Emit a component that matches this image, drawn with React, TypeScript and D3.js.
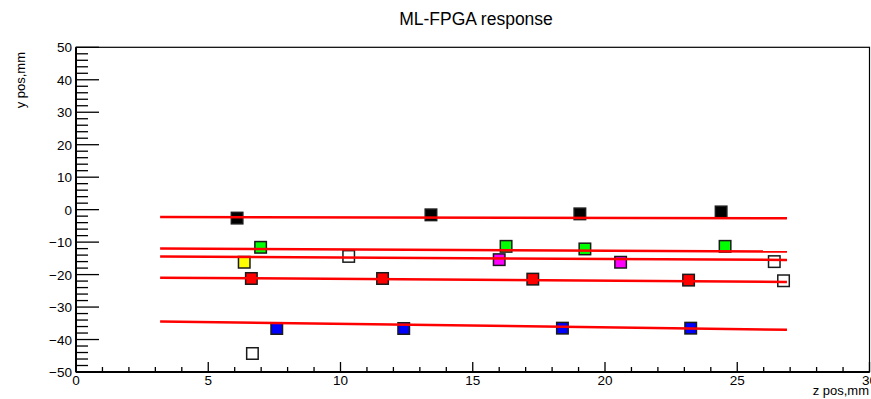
import React from "react";
import * as d3 from "d3";

// reconstructed hits, [z, y] in mm
const blackHits = [[6.09, -2.6], [13.42, -1.6], [19.05, -1.3], [24.39, -0.7]];
const greenHits = [[6.98, -11.6], [16.26, -11.3], [19.24, -12.1], [24.54, -11.3]];
const yellowHits = [[6.36, -16.2]];
const magentaHits = [[16.0, -15.4], [20.59, -16.2]];
const redHits = [[6.63, -21.2], [11.59, -21.2], [17.27, -21.4], [23.16, -21.7]];
const blueHits = [[7.59, -36.6], [12.39, -36.6], [18.39, -36.5], [23.24, -36.5]];
const openHits = [[10.31, -14.4], [26.4, -16.0], [26.75, -21.9], [6.67, -44.3]];

// fitted tracks: y at zStart and zEnd
const fitZ = [3.18, 26.88];
const fitStartY = [-2.3, -11.97, -14.43, -20.95, -34.43];
const fitEndY = [-2.65, -12.92, -15.48, -22.25, -37.0];

const xTicks = [0, 5, 10, 15, 20, 25, 30];
const yTicks = [-50, -40, -30, -20, -10, 0, 10, 20, 30, 40, 50];

const W = 871, H = 399;
const font = "'Liberation Sans', Arial, Helvetica, sans-serif";

export default function App() {
  const x = d3.scaleLinear().domain([0, 30]).range([76, 869.5]);
  const y = d3.scaleLinear().domain([-50, 50]).range([372, 47.3]);
  const line = d3.line<number[]>().x(d => x(d[0])).y(d => y(d[1]));
  const fmt = d3.format("d");

  const xMinor = d3.range(0, 30.01, 1).filter(v => v % 5 !== 0);
  const yMinor = d3.range(-50, 50.01, 2).filter(v => v % 10 !== 0);

  const groups = [
    { pts: blackHits, fill: "#000000" },
    { pts: greenHits, fill: "#00ff00" },
    { pts: yellowHits, fill: "#ffff00" },
    { pts: magentaHits, fill: "#ff00ff" },
    { pts: redHits, fill: "#ff0000" },
    { pts: blueHits, fill: "#0000ff" },
    { pts: openHits, fill: "#ffffff" },
  ];
  const s = 11.5;

  return (
    <svg width={W} height={H} style={{ position: "absolute", left: 0, top: 0, background: "#fff" }} fontFamily={font}>
      <rect width={W} height={H} fill="#fff" />
      <text x={476} y={25} textAnchor="middle" fontSize={17.5}>ML-FPGA response</text>

      {/* frame */}
      <rect x={x(0)} y={y(50)} width={x(30) - x(0)} height={y(-50) - y(50)} fill="none" stroke="#000" strokeWidth={1.2} />

      {/* markers */}
      {groups.map((g, gi) =>
        g.pts.map((p, i) => (
          <rect key={gi + "-" + i} x={x(p[0]) - s / 2} y={y(p[1]) - s / 2} width={s} height={s}
            fill={g.fill} stroke="#1a1a1a" strokeWidth={1.5} />
        ))
      )}

      {/* fits */}
      {fitStartY.map((y0, i) => (
        <path key={i} d={line([[fitZ[0], y0], [fitZ[1], fitEndY[i]]]) || ""} stroke="#ff0000" strokeWidth={2.5} fill="none" />
      ))}

      {/* y axis */}
      <line x1={x(0)} x2={x(0)} y1={y(-50)} y2={y(50)} stroke="#000" strokeWidth={2} />
      {yTicks.map(t => (
        <g key={t}>
          <line x1={x(0)} x2={x(0) + 23} y1={y(t)} y2={y(t)} stroke="#000" strokeWidth={1.3} />
          <text x={72} y={y(t) + 5} textAnchor="end" fontSize={13.5}>{fmt(t)}</text>
        </g>
      ))}
      {yMinor.map(t => (
        <line key={t} x1={x(0)} x2={x(0) + 12} y1={y(t)} y2={y(t)} stroke="#000" strokeWidth={1.3} />
      ))}
      <text transform={`translate(25,52) rotate(-90)`} textAnchor="end" fontSize={13}>y pos,mm</text>

      {/* x axis */}
      <line x1={x(0)} x2={x(30)} y1={y(-50)} y2={y(-50)} stroke="#000" strokeWidth={2} />
      {xTicks.map(t => (
        <g key={t}>
          <line x1={x(t)} x2={x(t)} y1={y(-50)} y2={y(-50) - 10} stroke="#000" strokeWidth={1.3} />
          <text x={x(t)} y={385} textAnchor="middle" fontSize={13.5}>{fmt(t)}</text>
        </g>
      ))}
      {xMinor.map(t => (
        <line key={t} x1={x(t)} x2={x(t)} y1={y(-50)} y2={y(-50) - 5} stroke="#000" strokeWidth={1.3} />
      ))}
      <text x={869} y={395} textAnchor="end" fontSize={13}>z pos,mm</text>
    </svg>
  );
}
